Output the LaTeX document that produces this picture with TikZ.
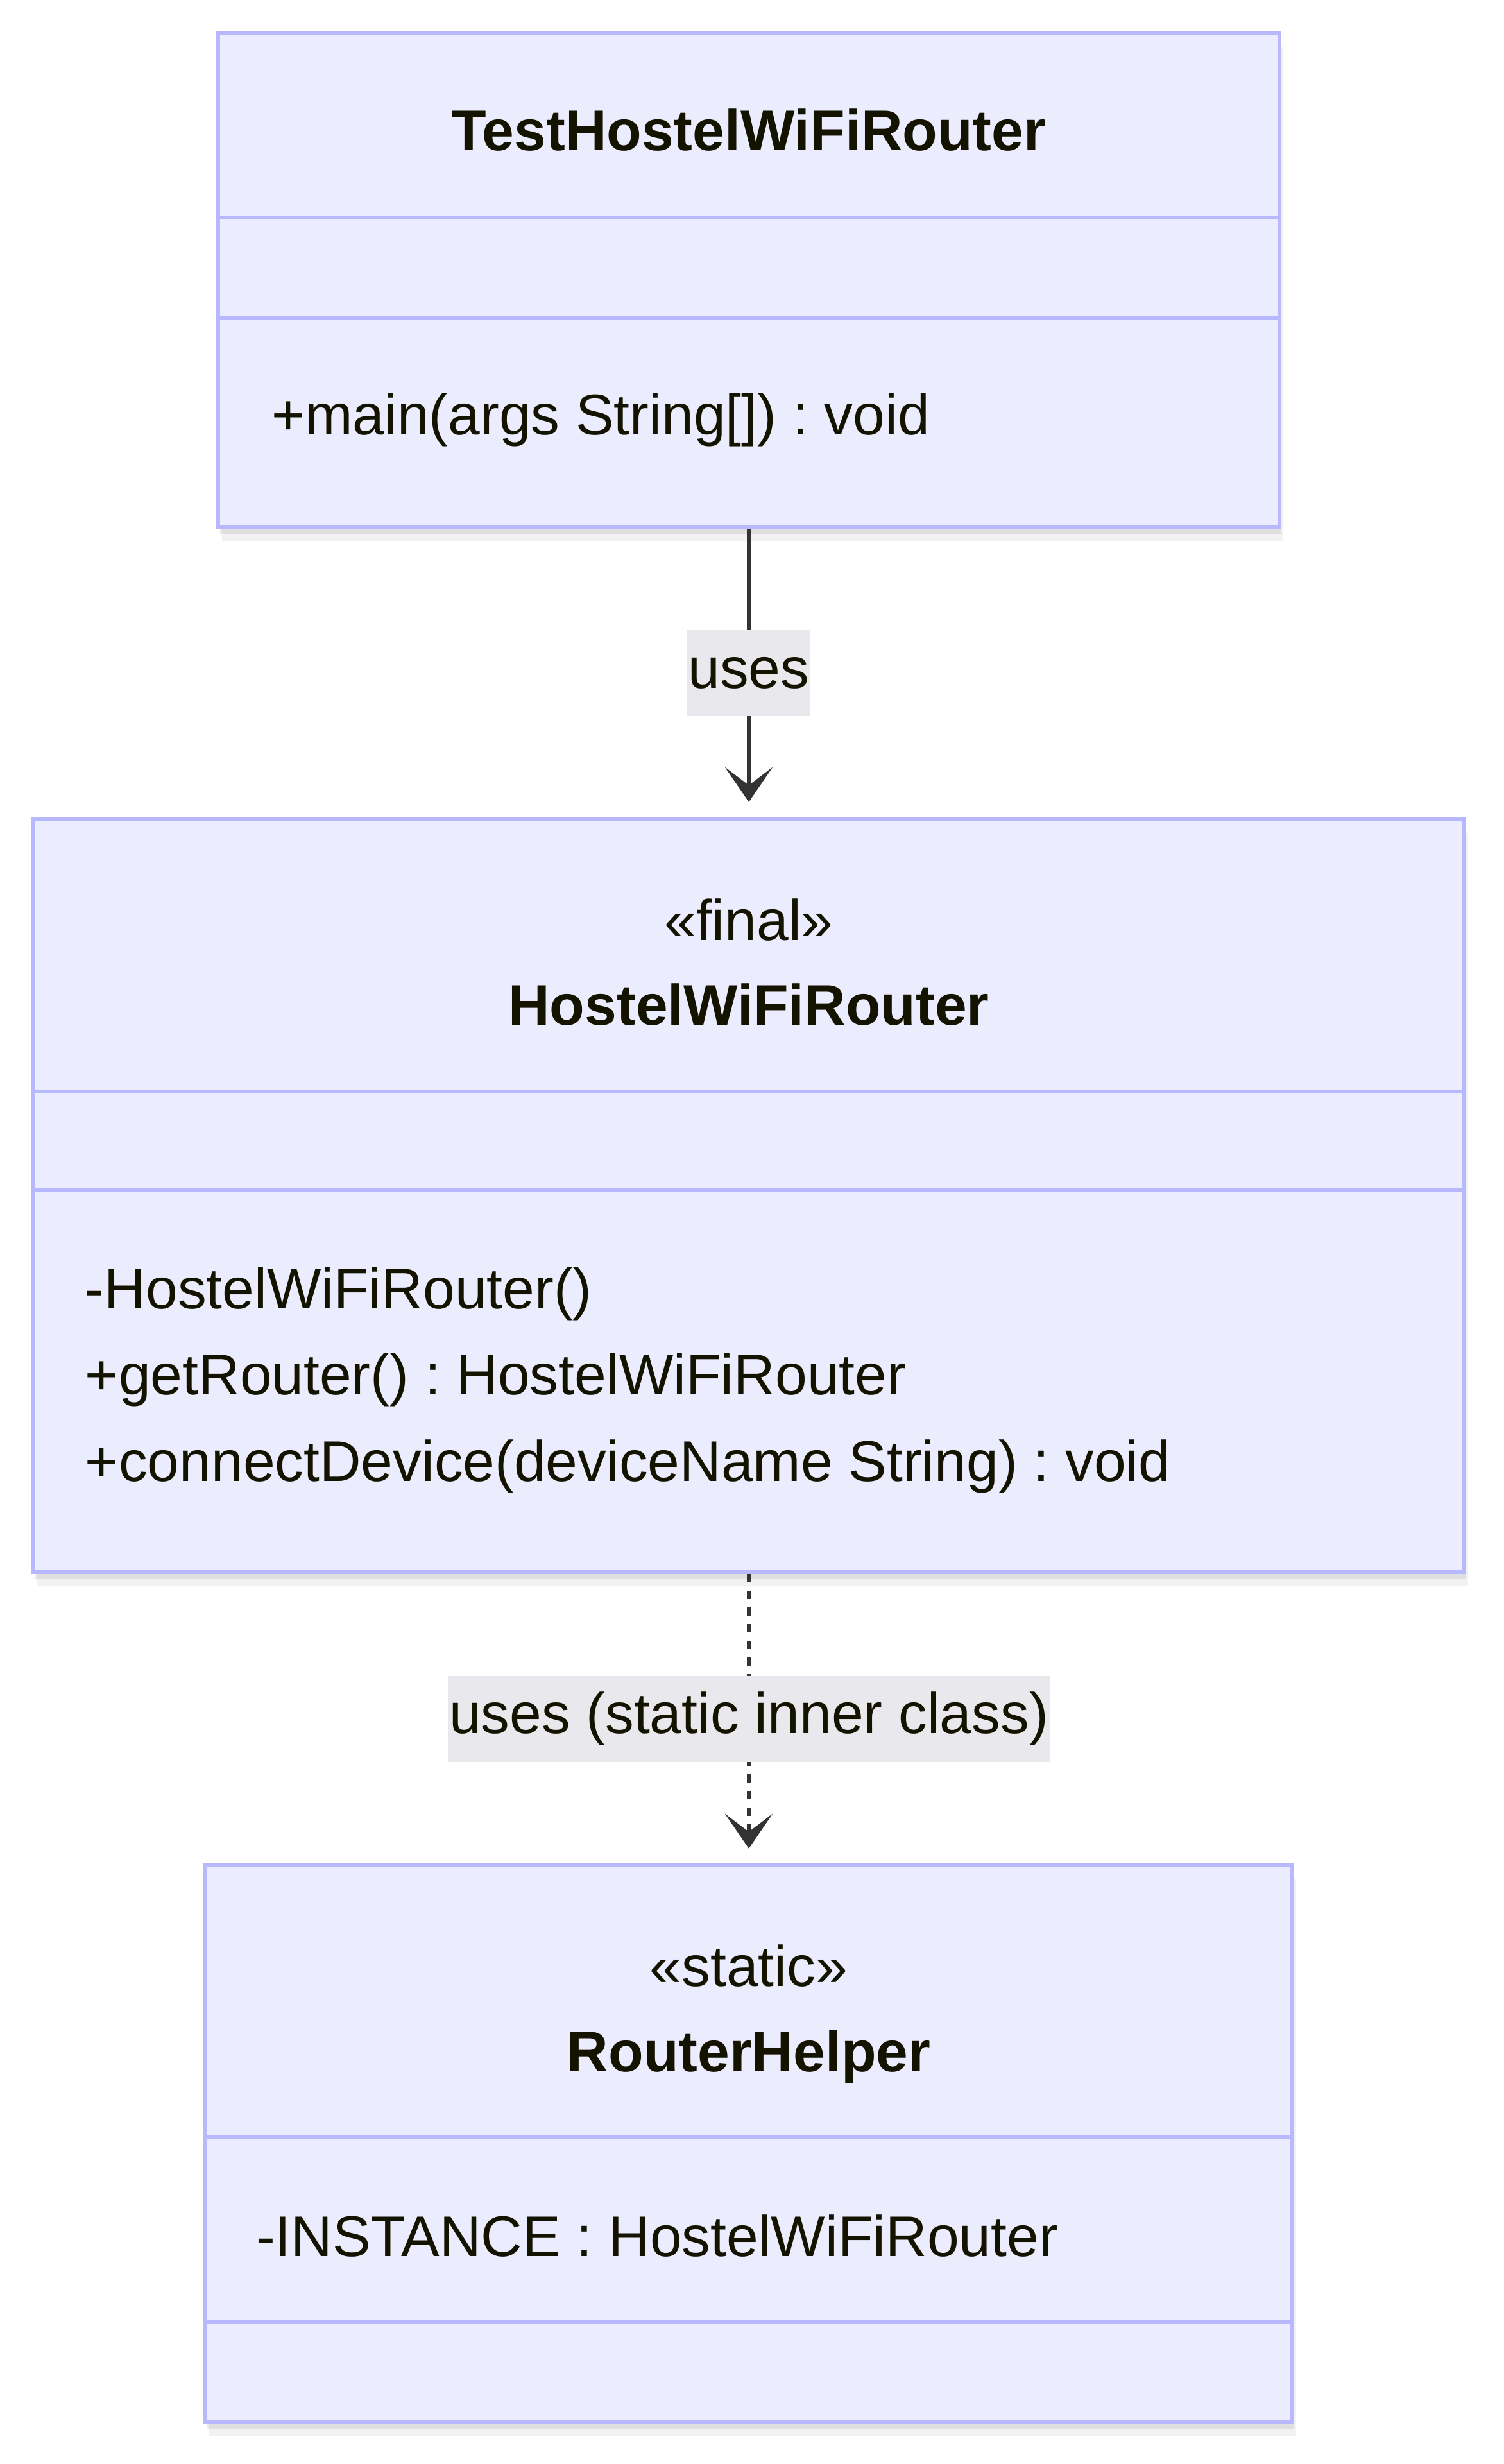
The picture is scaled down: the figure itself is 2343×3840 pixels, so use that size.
\documentclass[tikz,border=0pt]{standalone}
\usepackage{fontspec}
\setmainfont{Liberation Sans}
\frenchspacing
\usetikzlibrary{arrows.meta,shadows}

\definecolor{classfill}{RGB}{236,236,255}
\definecolor{classline}{RGB}{184,184,255}
\definecolor{textcol}{RGB}{19,19,0}
\definecolor{linkcol}{RGB}{51,51,51}
\definecolor{labelfill}{RGB}{232,232,237}

\begin{document}
\begin{tikzpicture}[x=0.1pt,y=0.1pt,yscale=-1,xscale=1,
  every node/.style={font=\fontsize{8.94}{10.7}\selectfont, text=textcol, inner sep=0pt},
  classbox/.style={draw=classline, fill=classfill, line width=0.65pt,
    drop shadow={shadow xshift=0.6pt, shadow yshift=-2.2pt, opacity=0.05, fill=black},
    drop shadow={shadow xshift=0.3pt, shadow yshift=-1.1pt, opacity=0.08, fill=black}},
  divider/.style={draw=classline, line width=0.65pt},
  classname/.style={anchor=base, font=\fontsize{8.94}{10.7}\selectfont\bfseries},
  stereo/.style={anchor=base},
  member/.style={anchor=base west},
  edgelabel/.style={fill=labelfill, inner xsep=0.2pt, inner ysep=0pt, minimum height=13.4pt},
  uses/.style={draw=linkcol, line width=0.6pt, shorten >=2.3pt,
    -{Stealth[length=5.4pt,width=7.4pt,inset=2.8pt]}}
]
\useasboundingbox (0,0) rectangle (2343,3840);

%Shape: Class box TestHostelWiFiRouter
\node [classbox, minimum width=165.4pt, minimum height=77pt] (test) at (1167,436) {};
\draw [divider] (340,339) -- (1994,339) ;
\draw [divider] (340,495) -- (1994,495) ;
% Text Node
\node [classname] (testname) at (1167,234) {TestHostelWiFiRouter};
% Text Node
\node [member] (testmain) at (421,677) {+main(args String[]) : void};

%Shape: Class box HostelWiFiRouter
\node [classbox, minimum width=223pt, minimum height=117.4pt] (router) at (1167,1863) {};
\draw [divider] (52,1701) -- (2282,1701) ;
\draw [divider] (52,1855) -- (2282,1855) ;
% Text Node
\node [stereo] (routerstereo) at (1167,1465) {«final»};
% Text Node
\node [classname] (routername) at (1167,1597) {HostelWiFiRouter};
% Text Node
\node [member] (routerctor) at (131,2039) {-HostelWiFiRouter()};
% Text Node
\node [member] (routerget) at (131,2173) {+getRouter() : HostelWiFiRouter};
% Text Node
\node [member] (routerconnect) at (131,2308) {+connectDevice(deviceName String) : void};

%Shape: Class box RouterHelper
\node [classbox, minimum width=169.4pt, minimum height=86.7pt] (helper) at (1167,3340.5) {};
\draw [divider] (320,3331) -- (2014,3331) ;
\draw [divider] (320,3619) -- (2014,3619) ;
% Text Node
\node [stereo] (helperstereo) at (1167,3095) {«static»};
% Text Node
\node [classname] (helpername) at (1167,3228) {RouterHelper};
% Text Node
\node [member] (helperinstance) at (397,3516) {-INSTANCE : HostelWiFiRouter};

%Straight Lines: dependencies
\draw [uses] (test) -- node [edgelabel] (usesone) {uses} (router) ;
\draw [uses, dash pattern=on 1.3pt off 1.3pt] (router) -- node [edgelabel] (usestwo) {uses (static inner class)} (helper) ;

\end{tikzpicture}
\end{document}
